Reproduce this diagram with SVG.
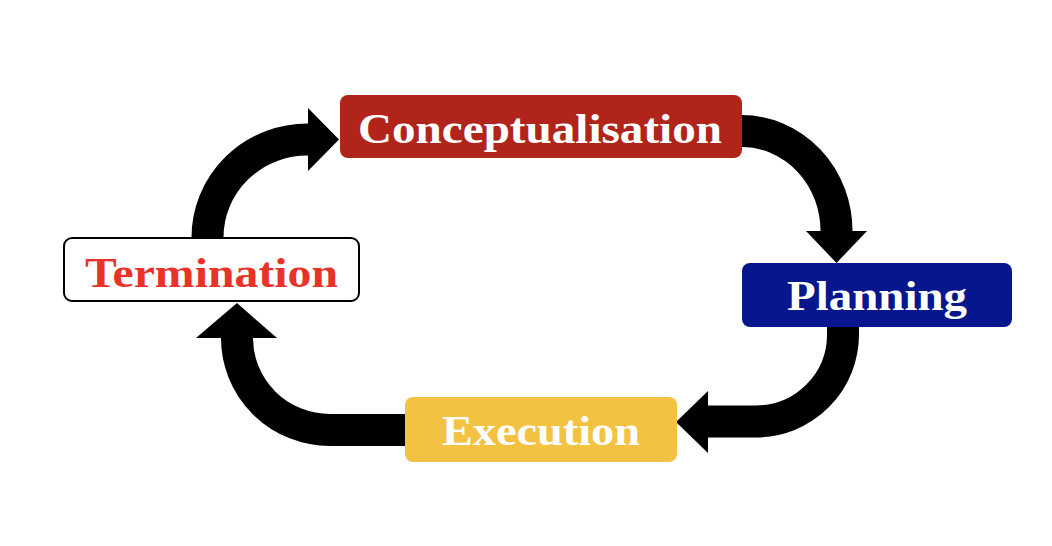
<svg xmlns="http://www.w3.org/2000/svg" width="1052" height="546" viewBox="0 0 1052 546">
<style>
.lbl{font-family:"Liberation Serif","Times New Roman",serif;font-weight:bold;font-size:43px;text-anchor:middle}
.shaft{fill:none;stroke:#000;stroke-width:32}
.head{fill:#000}
</style>
<rect width="1052" height="546" fill="#fff"/>
<g id="connectors">
<path class="shaft" d="M207.5,238 A100,98 0 0 1 309,139.5"/>
<polygon class="head" points="308,108 339,139.5 308,171"/>
<path class="shaft" d="M741,131 A95,100 0 0 1 836.5,232"/>
<polygon class="head" points="806,231 867,231 836.5,263"/>
<path class="shaft" d="M843,326 V334 A87,87 0 0 1 756,421.5 H707"/>
<polygon class="head" points="708,391 676,422 708,453"/>
<path class="shaft" d="M406,430 H330 A93,92 0 0 1 237,337"/>
<polygon class="head" points="196,338 237,303 277,338"/>
</g>
<g id="conceptualisation">
<rect x="340" y="95" width="402" height="63" rx="8" fill="#B0241B"/>
<text class="lbl" x="540" y="143" fill="#fff" textLength="364" lengthAdjust="spacingAndGlyphs">Conceptualisation</text>
</g>
<g id="planning">
<rect x="742" y="263" width="270" height="64" rx="8" fill="#06168C"/>
<text class="lbl" x="877" y="310" fill="#fff" textLength="180" lengthAdjust="spacingAndGlyphs">Planning</text>
</g>
<g id="execution">
<rect x="405" y="397" width="272" height="65" rx="8" fill="#F4C243"/>
<text class="lbl" x="541" y="445" fill="#fff" textLength="198" lengthAdjust="spacingAndGlyphs">Execution</text>
</g>
<g id="termination">
<rect x="64" y="238" width="295" height="63" rx="8" fill="#fff" stroke="#000" stroke-width="2"/>
<text class="lbl" x="211.5" y="287" fill="#E8332A" textLength="253" lengthAdjust="spacingAndGlyphs">Termination</text>
</g>
</svg>
